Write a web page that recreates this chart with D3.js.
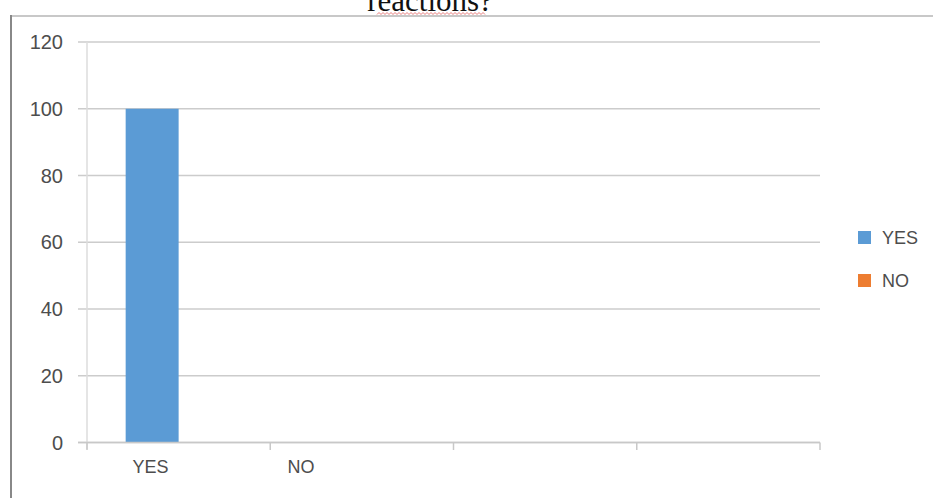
<!DOCTYPE html>
<html>
<head>
<meta charset="utf-8">
<script src="https://cdn.jsdelivr.net/npm/d3@7"></script>
<style>
  body { margin: 0; background: #fff; }
  svg { display: block; }
</style>
</head>
<body>
<svg id="chart"></svg>
<script>
const width = 933;
const height = 498;

// data
const categories = ["YES", "NO", "", ""];
const seriesNames = ["YES", "NO"];
const yesValues = [100, 0, null, null];
const noValues = [0, 0, null, null];
const yTicks = [0, 20, 40, 60, 80, 100, 120];
const titleText = "reactions?";

const colors = { YES: "#5b9bd5", NO: "#ed7d31" };

let svg = d3.select("#chart")
            .attr("width", width)
            .attr("height", height);

// cut-off title above the frame, with the spell check squiggle
svg.append("text")
   .attr("x", 430)
   .attr("y", 11)
   .attr("text-anchor", "middle")
   .style("font-family", "'Liberation Serif', 'Times New Roman', serif")
   .style("font-size", "31px")
   .attr("fill", "#111")
   .text(titleText);

let squiggle = d3.range(377, 486, 2).map((x, i) => [x, i % 2 ? 12.5 : 14.5]);
svg.append("path")
   .attr("d", d3.line()(squiggle))
   .attr("fill", "none")
   .attr("stroke", "#e87b7b")
   .attr("stroke-width", 1);

// frame of the pasted chart
svg.append("line")
   .attr("x1", 10).attr("x2", width)
   .attr("y1", 16).attr("y2", 16)
   .attr("stroke", "#c8c8c8").attr("stroke-width", 2);
svg.append("line")
   .attr("x1", 11).attr("x2", 11)
   .attr("y1", 15).attr("y2", height)
   .attr("stroke", "#888").attr("stroke-width", 2);

// scales
let y = d3.scaleLinear().domain([0, 120]).range([442.5, 42]);
let x = d3.scaleBand().domain(d3.range(categories.length)).range([87, 820]).padding(0);
let xInner = d3.scaleBand().domain(seriesNames).range([0, x.bandwidth()])
               .paddingInner(0).paddingOuter(0.73);
let xLabel = d3.scalePoint().domain(d3.range(categories.length)).range([150.5, 602]);

// gridlines
svg.append("g")
   .selectAll("line")
   .data(yTicks)
   .enter()
   .append("line")
   .attr("x1", 78).attr("x2", 820)
   .attr("y1", d => y(d)).attr("y2", d => y(d))
   .attr("stroke", "#cccccc").attr("stroke-width", 1.5);

// y axis line
svg.append("line")
   .attr("x1", 87).attr("x2", 87)
   .attr("y1", y(120)).attr("y2", 449)
   .attr("stroke", "#dcdcdc").attr("stroke-width", 1.5);

// y tick labels
svg.append("g")
   .selectAll("text")
   .data(yTicks)
   .enter()
   .append("text")
   .attr("x", 63)
   .attr("y", d => y(d))
   .attr("dy", "0.36em")
   .attr("text-anchor", "end")
   .style("font-family", "'Liberation Sans', Arial, sans-serif")
   .style("font-size", "20px")
   .attr("fill", "#4d4d4d")
   .text(d => d);

// bars
let barData = [];
categories.forEach((c, i) => {
  barData.push({ cat: i, series: "YES", value: yesValues[i] });
  barData.push({ cat: i, series: "NO", value: noValues[i] });
});

svg.append("g")
   .selectAll("rect")
   .data(barData.filter(d => d.value))
   .enter()
   .append("rect")
   .attr("x", d => x(d.cat) + xInner(d.series))
   .attr("y", d => y(d.value))
   .attr("width", xInner.bandwidth())
   .attr("height", d => y(0) - y(d.value))
   .attr("fill", d => colors[d.series]);

// x axis line and ticks
svg.append("line")
   .attr("x1", 78).attr("x2", 820)
   .attr("y1", y(0)).attr("y2", y(0))
   .attr("stroke", "#c8c8c8").attr("stroke-width", 1.5);

let tickXs = d3.range(categories.length).map(i => x(i)).concat([x.range()[1]]);
svg.append("g")
   .selectAll("line")
   .data(tickXs)
   .enter()
   .append("line")
   .attr("x1", d => d).attr("x2", d => d)
   .attr("y1", y(0)).attr("y2", 450)
   .attr("stroke", "#c8c8c8").attr("stroke-width", 1.5);

// x labels
svg.append("g")
   .selectAll("text")
   .data(categories)
   .enter()
   .append("text")
   .attr("x", (d, i) => xLabel(i))
   .attr("y", 473)
   .attr("text-anchor", "middle")
   .style("font-family", "'Liberation Sans', Arial, sans-serif")
   .style("font-size", "18px")
   .attr("fill", "#4d4d4d")
   .text(d => d);

// legend
let legendY = d3.scalePoint().domain(seriesNames).range([237.5, 280.5]);
let legend = svg.append("g")
   .selectAll("g")
   .data(seriesNames)
   .enter()
   .append("g")
   .attr("transform", d => "translate(858," + legendY(d) + ")");

legend.append("rect")
   .attr("x", 0).attr("y", -6.5)
   .attr("width", 13).attr("height", 13)
   .attr("fill", d => colors[d]);

legend.append("text")
   .attr("x", 24)
   .attr("dy", "0.36em")
   .style("font-family", "'Liberation Sans', Arial, sans-serif")
   .style("font-size", "18px")
   .attr("fill", "#4d4d4d")
   .text(d => d);
</script>
</body>
</html>
